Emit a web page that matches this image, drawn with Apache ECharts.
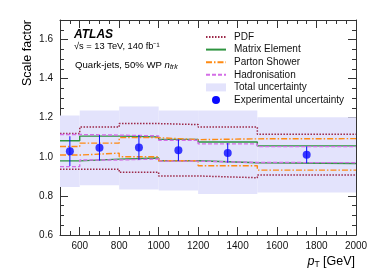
<!DOCTYPE html>
<html><head><meta charset="utf-8">
<script src="https://cdn.jsdelivr.net/npm/echarts@6/dist/echarts.min.js"></script>
<style>html,body{margin:0;padding:0;background:#fff}#c{width:374px;height:280px}</style>
</head><body><div id="c"></div>
<script>
const binEdges = [500, 600, 800, 1000, 1200, 1500, 2000];
const ptCenters = [550, 700, 900, 1100, 1350, 1750];
const sfValues = [1.029, 1.046, 1.048, 1.034, 1.020, 1.010];
const expErr = [0.076, 0.065, 0.063, 0.055, 0.050, 0.043];
const totalUp = [1.211, 1.237, 1.257, 1.237, 1.237, 1.203];
const totalDown = [0.845, 0.855, 0.833, 0.828, 0.810, 0.818];
const pdfUp = [1.119, 1.152, 1.170, 1.165, 1.152, 1.116];
const pdfDown = [0.937, 0.937, 0.921, 0.902, 0.893, 0.907];
const meUp = [1.082, 1.106, 1.102, 1.089, 1.076, 1.056];
const meDown = [0.979, 0.988, 0.994, 0.980, 0.970, 0.966];
const psUp = [1.053, 1.070, 1.098, 1.088, 1.092, 1.093];
const psDown = [1.009, 1.019, 1.000, 0.980, 0.954, 0.932];
const hadUp = [1.114, 1.111, 1.107, 1.085, 1.066, 1.052];
const hadDown = [0.950, 0.984, 0.989, 0.978, 0.971, 0.970];
const xTickLabels = [600, 800, 1000, 1200, 1400, 1600, 1800, 2000];
const yTickLabels = [0.6, 0.8, 1.0, 1.2, 1.4, 1.6];

const FONT = 'Liberation Sans, Arial, Helvetica, sans-serif';
const AX = '#333';
const colPDF = '#9c2848', colME = '#2e9440', colPS = '#ff8a12', colHad = '#d46ee6', colBand = '#e3e3fc', colExp = '#0a0aff';

function steps(vals){ const out=[]; vals.forEach((v,i)=>{ out.push([binEdges[i], v]); out.push([binEdges[i+1], v]); }); return out; }

function xAx(pos, major, labels){
  return {type:'value', min:500, max:2000, position:pos,
    interval: major ? undefined : 50,
    axisLine:{show:!major, onZero:false, lineStyle:{color:AX, width:1}},
    axisTick:{show:true, inside:true, length: major?8:4, lineStyle:{color:AX}, customValues: major? xTickLabels: undefined},
    axisLabel: labels ? {show:true, customValues:xTickLabels, fontSize:10, color:'#111', margin:6, fontFamily:FONT, formatter:v=>String(Math.round(v))} : {show:false},
    splitLine:{show:false}};
}
function yAx(pos, major, labels){
  return {type:'value', min:0.6, max:1.7, position:pos,
    interval: major ? undefined : 0.05,
    axisLine:{show:!major, onZero:false, lineStyle:{color:AX, width:1}},
    axisTick:{show:true, inside:true, length: major?8:4, lineStyle:{color:AX}, customValues: major? yTickLabels: undefined},
    axisLabel: labels ? {show:true, customValues:yTickLabels, fontSize:10, color:'#111', margin:7, fontFamily:FONT, formatter:v=>Number(v).toFixed(1)} : {show:false},
    splitLine:{show:false}};
}

function lineSeries(name, vals, color, type, width){
  return {type:'line', name, data: steps(vals), showSymbol:false, symbol:'none', silent:true,
    lineStyle:{color, type, width}, itemStyle:{color}, z:3, animation:false};
}

const hidden = {opacity:0};
const chart = echarts.init(document.getElementById('c'), null, {renderer:'canvas'});
chart.setOption({
  animation:false,
  grid:{left:60, right:18, top:20, bottom:45, outerBoundsMode:'none', containLabel:false},
  xAxis:[xAx('bottom',false,true), xAx('bottom',true,false), xAx('top',false,false), xAx('top',true,false)],
  yAxis:[yAx('left',false,true), yAx('left',true,false), yAx('right',false,false), yAx('right',true,false)],
  legend:{orient:'vertical', left:205, top:32, padding:0, itemWidth:20, itemHeight:8, itemGap:2.6, selectedMode:false,
    textStyle:{fontSize:10, fontFamily:FONT, color:'#111', padding:[0,0,0,3]},
    data:[{name:'PDF', itemStyle:hidden},{name:'Matrix Element', itemStyle:hidden},{name:'Parton Shower', itemStyle:hidden},{name:'Hadronisation', itemStyle:hidden},{name:'Total uncertainty', icon:'rect'},{name:'Experimental uncertainty', icon:'circle'}]},
  series:[
    {type:'custom', name:'Total uncertainty', itemStyle:{color:colBand}, z:1, silent:true,
      data: totalUp.map((u,i)=>[binEdges[i], binEdges[i+1], totalDown[i], u]),
      encode:{x:[0,1], y:[2,3]},
      renderItem:(params, api)=>{
        const p0 = api.coord([api.value(0), api.value(3)]);
        const p1 = api.coord([api.value(1), api.value(2)]);
        return {type:'rect', shape:{x:p0[0], y:p0[1], width:p1[0]-p0[0], height:p1[1]-p0[1]}, style:{fill:colBand}};
      }},
    lineSeries('PDF', pdfUp, colPDF, [1.5,1.5], 1.5),
    lineSeries('PDF', pdfDown, colPDF, [1.5,1.5], 1.5),
    lineSeries('Matrix Element', meUp, colME, 'solid', 1.4),
    lineSeries('Matrix Element', meDown, colME, 'solid', 1.4),
    lineSeries('Parton Shower', psUp, colPS, [6,2,1.5,2], 1.4),
    lineSeries('Parton Shower', psDown, colPS, [6,2,1.5,2], 1.4),
    lineSeries('Hadronisation', hadUp, colHad, [4,2], 1.4),
    lineSeries('Hadronisation', hadDown, colHad, [4,2], 1.4),
    {type:'custom', name:'Experimental uncertainty', itemStyle:{color:colExp}, z:4, silent:true,
      data: ptCenters.map((x,i)=>[x, sfValues[i]-expErr[i], sfValues[i]+expErr[i]]),
      encode:{x:0, y:[1,2]},
      renderItem:(params, api)=>{
        const a = api.coord([api.value(0), api.value(1)]);
        const b = api.coord([api.value(0), api.value(2)]);
        return {type:'line', shape:{x1:a[0], y1:a[1], x2:b[0], y2:b[1]}, style:{stroke:colExp, lineWidth:1}};
      }},
    {type:'scatter', name:'Experimental uncertainty', data: ptCenters.map((x,i)=>[x, sfValues[i]]),
      symbol:'circle', symbolSize:8, itemStyle:{color:colExp}, z:5, silent:true}
  ],
  graphic:[
    {type:'text', left:74, top:29, style:{text:'ATLAS', font:'italic bold 12px '+FONT, fill:'#000'}},
    {type:'text', left:74, top:42, style:{text:'√s = 13 TeV, 140 fb⁻¹', font:'9.3px '+FONT, fill:'#000'}},
    {type:'text', left:75, top:60, style:{text:'{a|Quark-jets, 50% WP }{i|n}{s|trk}', fill:'#000',
      rich:{a:{fontSize:9.6, fontFamily:FONT}, i:{fontSize:9.6, fontFamily:FONT, fontStyle:'italic'}, s:{fontSize:7, fontFamily:FONT, fontStyle:'italic', padding:[4,0,0,0]}}}},
    {type:'text', x:28, y:20, rotation:Math.PI/2, style:{text:'Scale factor', font:'12.5px '+FONT, fill:'#000', align:'right', verticalAlign:'middle'}},
    {type:'text', right:19, top:255, style:{text:'{i|p}{s|T}{a| [GeV]}', fill:'#000',
      rich:{a:{fontSize:12.5, fontFamily:FONT}, i:{fontSize:12.5, fontFamily:FONT, fontStyle:'italic'}, s:{fontSize:8.5, fontFamily:FONT, padding:[6,0,0,0]}}}}
  ]
});
</script></body></html>
